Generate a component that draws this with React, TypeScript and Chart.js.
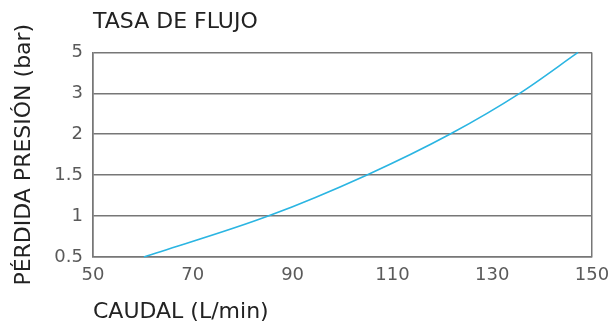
import React, { useEffect, useRef } from "react";
import { Chart, registerables } from "chart.js";

Chart.register(...registerables);

// Y axis tick labels (top to bottom, evenly spaced)
const yTickLabels = ["5", "3", "2", "1.5", "1", "0.5"];
// X axis ticks (L/min)
const xTickValues = [50, 70, 90, 110, 130, 150];
// Curve: flow (L/min) at which each pressure-loss level is reached
const flowRates = [60.2, 85.1, 104.8, 121.5, 135.5, 147.2];
const pressureLoss = ["0.5", "1", "1.5", "2", "3", "5"];

const FONT = "'DejaVu Sans', sans-serif";
const GRID = "#777777";

export default function App() {
  const ref = useRef<HTMLCanvasElement>(null);

  useEffect(() => {
    if (!ref.current) return;
    const chart = new Chart(ref.current, {
      type: "line",
      data: {
        datasets: [
          {
            data: flowRates.map((x, i) => ({ x, y: pressureLoss[i] })) as any,
            borderColor: "#2bb5e2",
            borderWidth: 1.6,
            pointRadius: 0,
            cubicInterpolationMode: "monotone",
            fill: false,
          },
        ],
      },
      options: {
        animation: false,
        responsive: false,
        devicePixelRatio: 1,
        layout: { padding: { left: 0, right: 21, top: 0, bottom: 0 } },
        plugins: {
          legend: { display: false },
          tooltip: { enabled: false },
          title: {
            display: true,
            text: "TASA DE FLUJO",
            align: "start",
            fullSize: false,
            color: "#222222",
            font: { family: FONT, size: 22, weight: "normal" },
            padding: { top: 9, bottom: 17 },
          },
        },
        scales: {
          x: {
            type: "linear",
            min: 50,
            max: 150,
            afterBuildTicks: (s: any) => {
              s.ticks = xTickValues.map((v) => ({ value: v }));
            },
            afterFit: (s: any) => {
              s.height = 69;
              s.paddingLeft = 0;
              s.paddingRight = 0;
            },
            grid: {
              drawTicks: false,
              lineWidth: 1.5,
              color: (c: any) =>
                c.index === 0 || c.index === xTickValues.length - 1 ? GRID : "rgba(0,0,0,0)",
            },
            border: { display: true, color: GRID, width: 1.5 },
            ticks: {
              padding: 8,
              color: "#5a5a5a",
              autoSkip: false,
              maxRotation: 0,
              font: { family: FONT, size: 18 },
            },
            title: {
              display: true,
              text: "CAUDAL (L/min)",
              align: "start",
              color: "#222222",
              font: { family: FONT, size: 22 },
              padding: { top: 0, bottom: 1 },
            },
          },
          y: {
            type: "category",
            labels: yTickLabels,
            offset: false,
            afterFit: (s: any) => {
              s.width = 93;
              s.paddingTop = 0;
              s.paddingBottom = 0;
            },
            grid: { drawTicks: false, lineWidth: 1.5, color: GRID },
            border: { display: true, color: GRID, width: 1.5 },
            ticks: {
              padding: 10,
              color: "#5a5a5a",
              autoSkip: false,
              font: { family: FONT, size: 18 },
            },
            title: {
              display: true,
              text: "PÉRDIDA PRESIÓN (bar)",
              color: "#222222",
              font: { family: FONT, size: 22 },
              padding: { top: 11, bottom: 0 },
            },
          },
        },
      } as any,
    });
    return () => chart.destroy();
  }, []);

  return (
    <div style={{ position: "absolute", left: 0, top: 0, width: 613, height: 326 }}>
      <canvas ref={ref} width={613} height={326} style={{ display: "block" }} />
    </div>
  );
}
